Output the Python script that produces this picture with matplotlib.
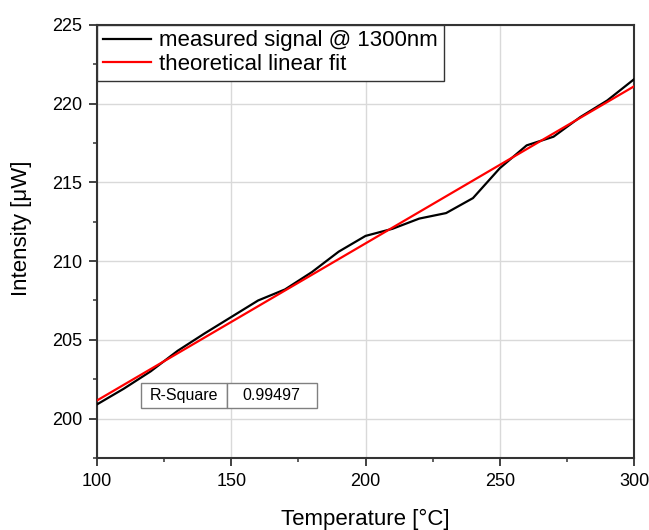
import matplotlib
matplotlib.use("Agg")
import matplotlib.pyplot as plt
from matplotlib.ticker import MultipleLocator

plt.rcParams['font.family'] = ['Liberation Sans', 'DejaVu Sans']

temperature = [100, 110, 120, 130, 140, 150, 160, 170, 180, 190, 200,
               210, 220, 230, 240, 250, 260, 270, 280, 290, 300]
measured = [200.9, 201.9, 203.0, 204.3, 205.4, 206.45, 207.5, 208.2, 209.3, 210.6, 211.6,
            212.05, 212.7, 213.05, 214.0, 215.9, 217.35, 217.9, 219.15, 220.2, 221.55]
fit_x = [100, 300]
fit_y = [201.15, 221.1]
r_square_label = "R-Square"
r_square_value = "0.99497"

fig = plt.figure(figsize=(6.49, 5.30), dpi=100)
ax = fig.add_axes([0.1495, 0.136, 0.8275, 0.817])

ax.plot(temperature, measured, color='black', lw=1.6, label='measured signal @ 1300nm', zorder=3)
ax.plot(fit_x, fit_y, color='#ff0000', lw=1.6, label='theoretical linear fit', zorder=4)

ax.set_xlim(100, 300)
ax.set_ylim(197.5, 225)
ax.xaxis.set_major_locator(MultipleLocator(50))
ax.xaxis.set_minor_locator(MultipleLocator(25))
ax.yaxis.set_major_locator(MultipleLocator(5))
ax.yaxis.set_minor_locator(MultipleLocator(2.5))
ax.grid(True, which='major', color='#d9d9d9', lw=1.0, zorder=0)
ax.set_axisbelow(True)

for s in ax.spines.values():
    s.set_color('#333333')
    s.set_linewidth(1.5)
ax.tick_params(which='major', direction='out', length=6, width=1.3, color='#333333',
               labelsize=13, pad=4.5, top=False, right=False)
ax.tick_params(which='minor', direction='out', length=3, width=1.1, color='#333333',
               top=False, right=False)

ax.set_xlabel('Temperature [°C]', fontsize=16, labelpad=14)
ax.set_ylabel('Intensity [μW]', fontsize=16)
ax.yaxis.set_label_coords(-0.121, 0.531)

leg = ax.legend(loc='upper left', fontsize=16, frameon=True, fancybox=False,
                borderaxespad=0, handlelength=2.2, handletextpad=0.35,
                borderpad=0.25, labelspacing=0.12)
leg.get_frame().set_edgecolor('#333333')
leg.get_frame().set_linewidth(1.0)
leg.get_frame().set_alpha(1)

tbl = ax.table(cellText=[[r_square_label, r_square_value]],
               bbox=[0.082, 0.116, 0.327, 0.0575], cellLoc='center')
tbl.auto_set_font_size(False)
tbl.set_fontsize(11.5)
cells = tbl.get_celld()
widths = [0.488, 0.512]
for (r, c), cell in cells.items():
    cell.set_edgecolor('#808080')
    cell.set_linewidth(1.0)
    cell.set_facecolor('white')
    cell.set_width(0.327 * widths[c])
tbl.set_zorder(5)

fig.savefig('out.png', dpi=100)
